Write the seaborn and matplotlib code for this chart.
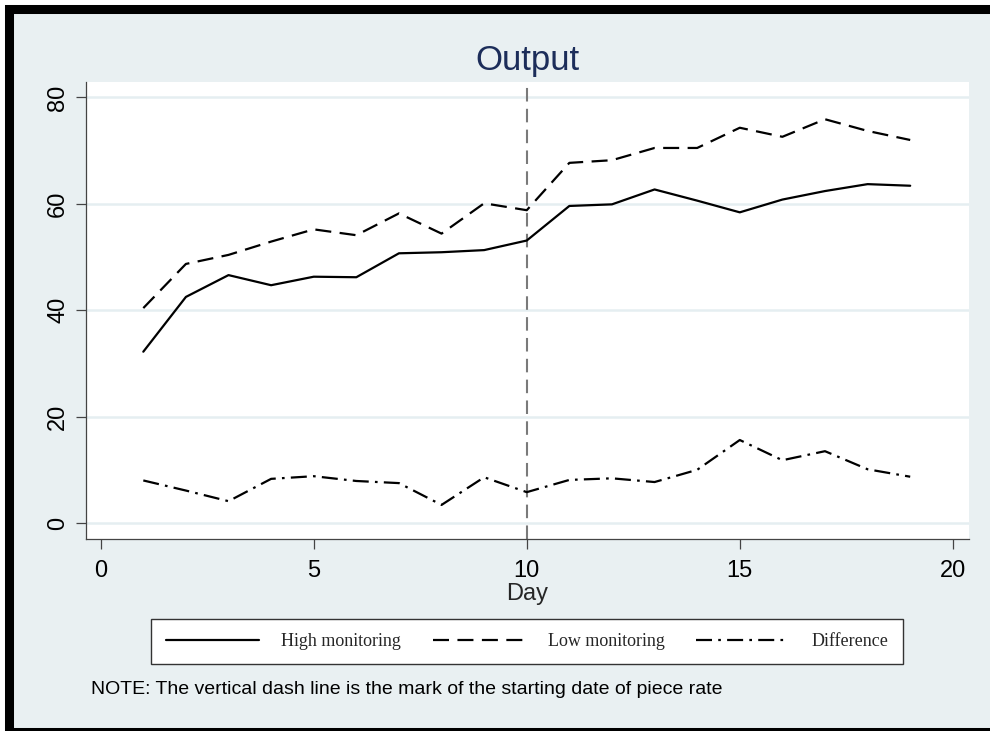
import numpy as np
import pandas as pd
import seaborn as sns
import matplotlib.pyplot as plt
from matplotlib.patches import Rectangle

# data
days = list(range(1, 20))
high_monitoring = [32.2, 42.5, 46.6, 44.7, 46.3, 46.2, 50.7, 50.9, 51.3, 53.1,
                   59.6, 59.9, 62.7, 60.6, 58.4, 60.8, 62.4, 63.7, 63.4]
low_monitoring = [40.4, 48.7, 50.4, 52.9, 55.2, 54.1, 58.2, 54.4, 60.1, 58.8,
                  67.7, 68.2, 70.5, 70.5, 74.3, 72.6, 75.9, 73.7, 72.0]
difference = [8.0, 6.1, 4.1, 8.3, 8.8, 7.9, 7.5, 3.4, 8.6, 5.8,
              8.1, 8.4, 7.7, 10.0, 15.6, 11.8, 13.5, 10.1, 8.7]
series_names = ["High monitoring", "Low monitoring", "Difference"]
piece_rate_day = 10

df = pd.DataFrame({
    "Day": days * 3,
    "Output": high_monitoring + low_monitoring + difference,
    "Series": [n for n in series_names for _ in days],
})

sns.set_style("white")
plt.rcParams["font.family"] = ["Liberation Sans", "DejaVu Sans"]

bg = "#e9f0f2"
grid_col = "#e5eef1"

fig = plt.figure(figsize=(9.9, 7.31), dpi=100, facecolor="white")
W, H = 990, 731

# outer frame (Stata style graph region)
frame = Rectangle((8.5 / W, -0.5 / H), (1000 - 8.5) / W, (731.5 - 9) / H,
                  transform=fig.transFigure, facecolor=bg, edgecolor="black",
                  lw=6.5, zorder=-5, clip_on=False)
fig.add_artist(frame)

ax = fig.add_axes([86 / W, 1 - 538.7 / H, (969 - 86) / W, (538.7 - 82) / H])
ax.set_facecolor("white")

dash_map = {
    "High monitoring": "",
    "Low monitoring": (7.2, 3.8),
    "Difference": (7.2, 2.8, 1.2, 2.8),
}
sns.lineplot(data=df, x="Day", y="Output", style="Series", dashes=dash_map,
             color="black", lw=1.6, legend=False, errorbar=None, ax=ax)
handles = ax.get_lines()[:3]

ax.axvline(piece_rate_day, color="#7a7a7a", lw=1.5, dashes=(6.5, 3.5), zorder=1)

ax.set_xlim(-0.345, 20.38)
ax.set_ylim(-2.95, 82.9)
ax.set_xticks([0, 5, 10, 15, 20])
ax.set_yticks([0, 20, 40, 60, 80])
ax.yaxis.grid(True, color=grid_col, lw=1.8)
ax.xaxis.grid(False)
ax.set_axisbelow(True)

for s in ["top", "right"]:
    ax.spines[s].set_visible(False)
for s in ["left", "bottom"]:
    ax.spines[s].set_color("#444444")
    ax.spines[s].set_linewidth(0.9)

ax.tick_params(axis="both", direction="out", length=7.2, width=0.9,
               bottom=True, left=True,
               color="#444444", labelsize=17, labelcolor="black")
ax.tick_params(axis="x", pad=8)
ax.tick_params(axis="y", pad=5)
plt.setp(ax.get_yticklabels(), rotation=90, va="center")

ax.set_xlabel("Day", fontsize=17, labelpad=1)
ax.set_ylabel("")

fig.text(527.5 / W, 1 - 70 / H, "Output", ha="center", va="baseline",
         fontsize=25, color="#1c2d5a")

fig.legend(handles, series_names, loc="center",
           bbox_to_anchor=(527 / W, 1 - 641.5 / H), ncol=3,
           prop={"family": "Liberation Serif", "size": 13},
           handlelength=5.15, handletextpad=1.22, columnspacing=1.77,
           borderpad=0.8, frameon=True, fancybox=False, framealpha=1,
           edgecolor="#333333", facecolor="white")

fig.text(90.7 / W, 1 - 694 / H,
         "NOTE: The vertical dash line is the mark of the starting date of piece rate",
         ha="left", va="baseline", fontsize=14, color="black")

fig.savefig("out.png", dpi=100, facecolor=fig.get_facecolor())
